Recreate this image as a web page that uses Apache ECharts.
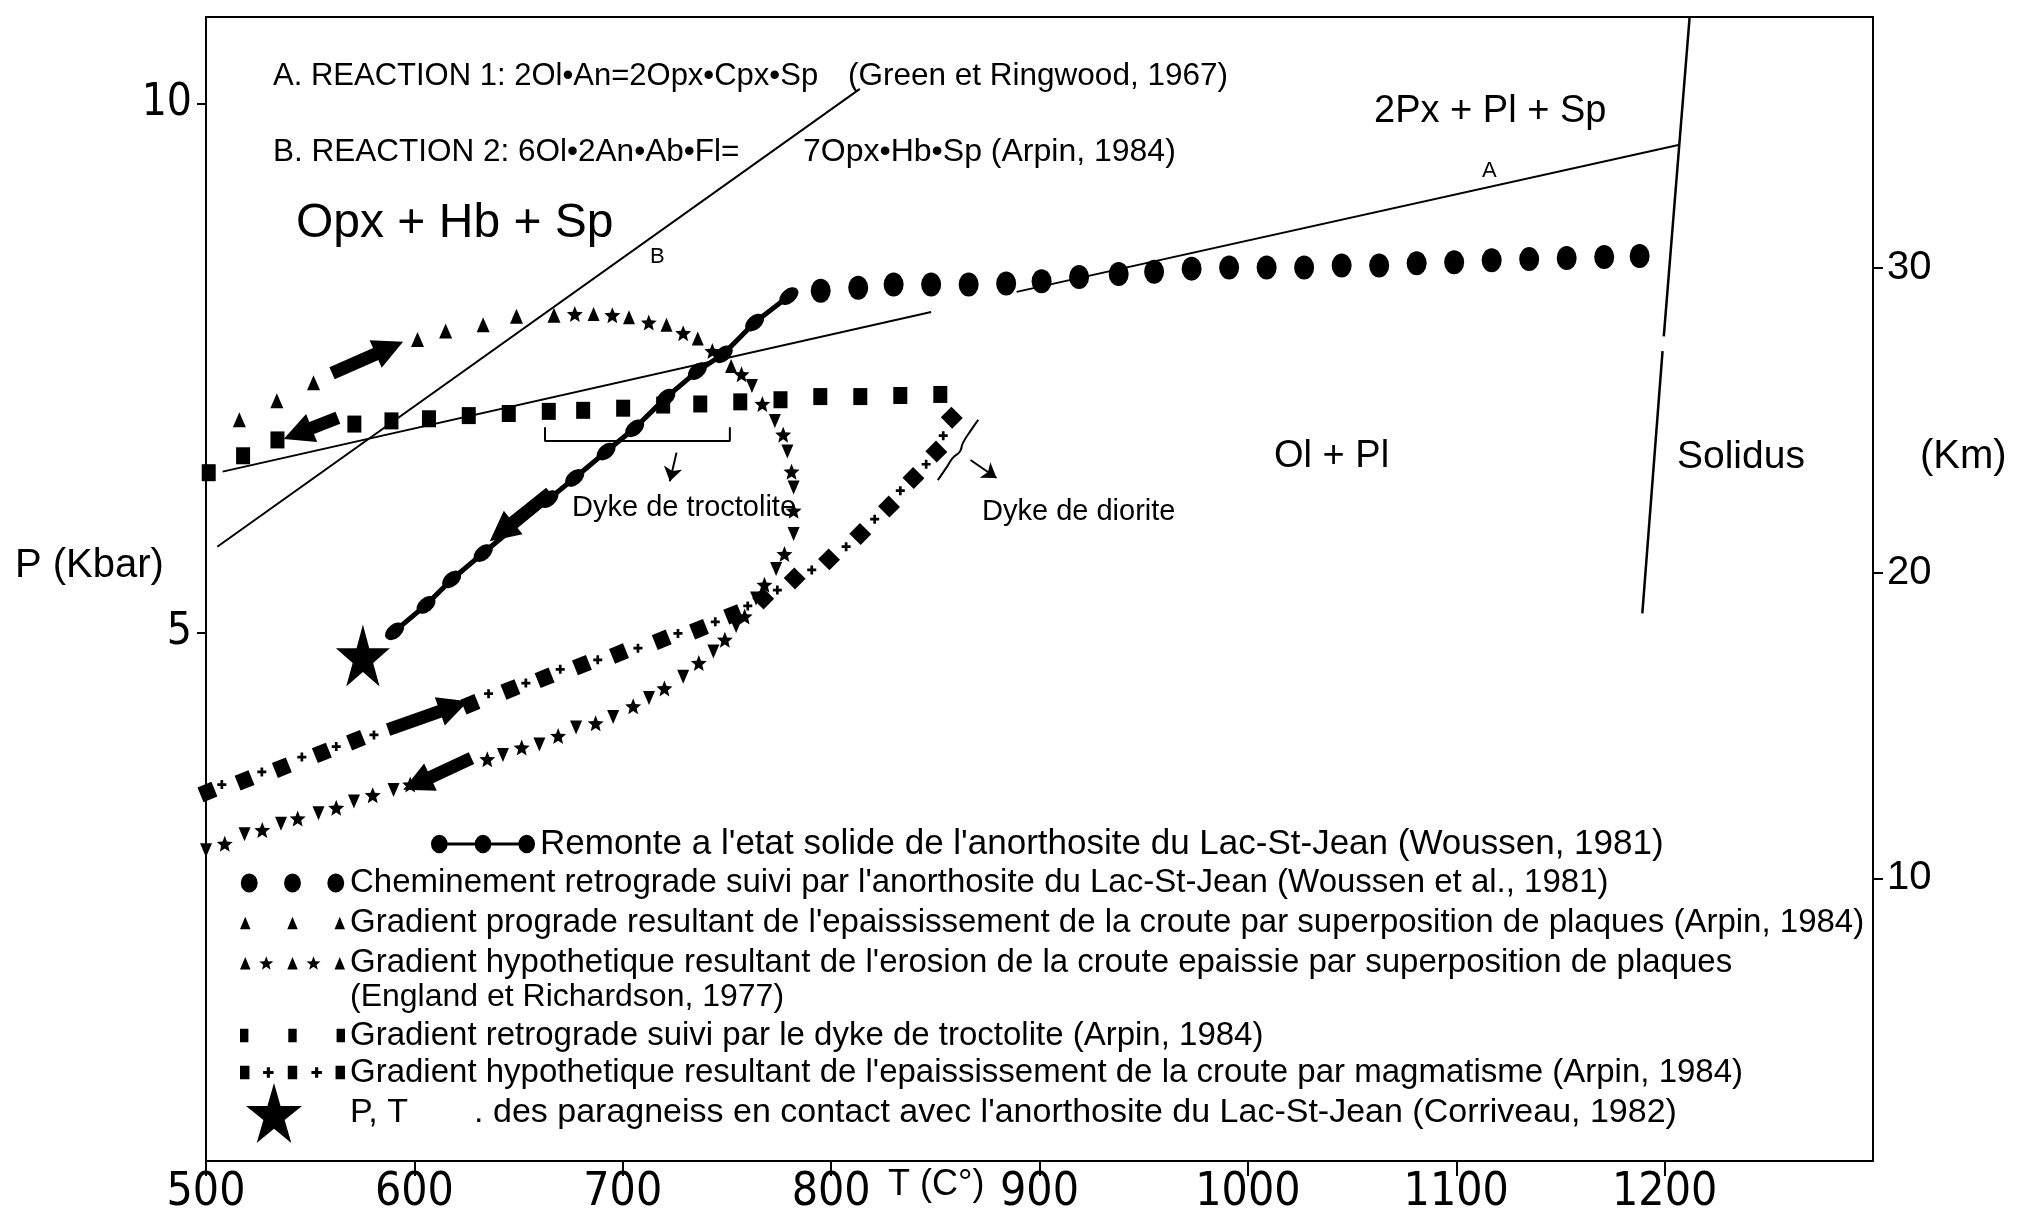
<!DOCTYPE html>
<html><head><meta charset="utf-8">
<script src="https://cdn.jsdelivr.net/npm/echarts@6/dist/echarts.min.js"></script>
<style>html,body{margin:0;padding:0;background:#fff}#c{width:2018px;height:1216px}</style>
</head><body><div id="c"></div>
<script>
// ---------------- DATA (T in °C, P in kbar) ----------------
const xTicks = [500, 600, 700, 800, 900, 1000, 1100, 1200];
const kbarTicks = [5, 10];
const kmTicks = [10, 20, 30];

// Reaction A (Green et Ringwood) — two visible pieces
const lineA1 = [[508, 6.52], [848, 8.03]];
const lineA2 = [[889, 8.22], [1206.6, 9.61]];
// Reaction B (Arpin)
const lineB = [[505.4, 5.81], [813.8, 10.14]];
// Solidus (with small break)
const solidus1 = [[1212, 10.82], [1199.6, 7.80]];
const solidus2 = [[1199, 7.66], [1189.3, 5.18]];

// Remonte a l'etat solide (chain)
const remonteT = [590.5, 605.6, 617.9, 633.0, 664.5, 676.9, 692.0, 705.7, 720.7, 735.8, 748.2, 763.3, 779.7];
const remonteP = [5.01, 5.26, 5.50, 5.75, 6.26, 6.46, 6.71, 6.93, 7.22, 7.47, 7.63, 7.93, 8.18];

// Cheminement retrograde (large dots)
const chemT = [795, 813, 830, 848, 866, 884, 901, 919, 938, 955, 973, 991, 1009, 1027, 1045, 1063, 1081, 1099, 1117, 1135, 1153, 1171, 1188];
const chemP = [8.23, 8.26, 8.29, 8.29, 8.29, 8.30, 8.32, 8.36, 8.39, 8.41, 8.44, 8.45, 8.45, 8.45, 8.47, 8.47, 8.49, 8.50, 8.52, 8.53, 8.54, 8.55, 8.56];

// Gradient prograde (triangles)
const progT = [499.4, 516, 534, 551.6, 601.5, 615, 633, 649, 667];
const progP = [6.86, 7.01, 7.19, 7.36, 7.77, 7.85, 7.91, 7.99, 8.0];

// Gradient hypothetique — erosion (triangles + stars)
const eroTriT = [686, 703, 721, 736, 752, 762, 773, 779, 782, 782, 773.6, 764, 754.4, 743.5, 729, 712.6, 695.4, 677.6, 660, 642.5, 590, 571, 554, 536, 518.5, 500];
const eroTriP = [8.01, 7.98, 7.91, 7.78, 7.52, 7.33, 7.0, 6.71, 6.37, 5.93, 5.6, 5.32, 5.06, 4.82, 4.58, 4.38, 4.2, 4.1, 3.94, 3.84, 3.51, 3.4, 3.29, 3.19, 3.09, 2.94];
const eroStarT = [677, 695, 712.5, 729, 743, 757, 767, 777, 781, 782, 777.6, 768, 758.5, 749, 736.5, 720, 705, 687, 669, 651.5, 635, 598, 580, 562.5, 544, 527, 509];
const eroStarP = [8.01, 8.0, 7.93, 7.83, 7.66, 7.44, 7.16, 6.87, 6.52, 6.15, 5.74, 5.45, 5.15, 4.93, 4.71, 4.47, 4.3, 4.14, 4.02, 3.91, 3.8, 3.56, 3.46, 3.34, 3.24, 3.13, 3.0];

// Gradient retrograde — dyke de troctolite (squares)
const trocT = [852.4, 833.2, 814, 794.8, 775.7, 756.4, 737.2, 719.4, 700.2, 681, 664.5, 645.3, 626.1, 607, 589, 571.2, 534.3, 517.8, 501.3];
const trocP = [7.25, 7.24, 7.23, 7.23, 7.20, 7.18, 7.16, 7.15, 7.12, 7.10, 7.09, 7.07, 7.05, 7.02, 7.0, 6.97, 6.82, 6.67, 6.51];

// Gradient hypothetique — magmatisme (squares + plus)
const magSqT = [857.9, 850.5, 839.5, 827.8, 814, 799, 782.5, 767.4, 753, 736.6, 718.7, 698.2, 680.4, 662.5, 646.1, 626.9, 572, 555.6, 536.4, 518.5, 500.7];
const magSqP = [7.03, 6.71, 6.46, 6.19, 5.93, 5.69, 5.51, 5.32, 5.17, 5.03, 4.93, 4.80, 4.69, 4.57, 4.46, 4.32, 3.98, 3.86, 3.72, 3.60, 3.49];
const magPlT = [853.8, 845.6, 833.2, 820.9, 807.2, 790.7, 774.2, 760, 744.4, 726.5, 707.3, 688, 670, 653.5, 635.6, 580.6, 562.5, 546, 526.8, 507.6];
const magPlP = [6.86, 6.59, 6.34, 6.07, 5.81, 5.59, 5.40, 5.25, 5.10, 4.99, 4.85, 4.74, 4.65, 4.52, 4.42, 4.03, 3.92, 3.82, 3.68, 3.56];

// P,T paragneiss
const paraT = [575.3];
const paraP = [4.78];

// Direction arrows [from, to]
const bigArrows = [
  [[560.5, 7.45], [588, 7.69]],
  [[563.3, 7.03], [544, 6.88]],
  [[665.2, 6.32], [641.8, 5.95]],
  [[587.4, 4.08], [619, 4.30]],
  [[627.4, 3.81], [601.2, 3.57]]
];
const smallArrows = [
  [[725.8, 6.70], [722.6, 6.43]],
  [[866.9, 6.63], [879.4, 6.46]]
];
const troctBracket = [[662.7, 6.94], [662.7, 6.81], [751.4, 6.81], [751.4, 6.94]];
const dioriteBrace = [[870.6, 7.01], [867.4, 6.92], [863.2, 6.79], [861.8, 6.71], [858.4, 6.65], [855.4, 6.56], [851.2, 6.44]];

// ---------------- NAMES ----------------
const N_REM = "Remonte a l'etat solide de l'anorthosite du Lac-St-Jean (Woussen, 1981)";
const N_CHE = "Cheminement retrograde suivi par l'anorthosite du Lac-St-Jean (Woussen et al., 1981)";
const N_PRO = "Gradient prograde resultant de l'epaississement de la croute par superposition de plaques (Arpin, 1984)";
const N_ERO = "Gradient hypothetique resultant de l'erosion de la croute epaissie par superposition de plaques";
const N_TRO = "Gradient retrograde suivi par le dyke de troctolite (Arpin, 1984)";
const N_MAG = "Gradient hypothetique resultant de l'epaississement de la croute par magmatisme (Arpin, 1984)";
const N_PT = "P, T       . des paragneiss en contact avec l'anorthosite du Lac-St-Jean (Corriveau, 1982)";

// ---------------- helpers ----------------
const zip = (a, b) => a.map((v, i) => [v, b[i]]);
function starPath(cx, cy, R, r) {
  let d = '';
  for (let i = 0; i < 10; i++) {
    const a = -Math.PI / 2 + i * Math.PI / 5;
    const rad = i % 2 === 0 ? R : r;
    d += (i === 0 ? 'M' : 'L') + (cx + rad * Math.cos(a)).toFixed(2) + ',' + (cy + rad * Math.sin(a)).toFixed(2) + ' ';
  }
  return d + 'Z ';
}
const circ = (cx, cy, rx, ry) => `M${cx - rx},${cy} A${rx},${ry} 0 1,1 ${cx + rx},${cy} A${rx},${ry} 0 1,1 ${cx - rx},${cy} Z `;
const tri = (x, w, h) => `M${x},${h} L${x + w / 2},0 L${x + w},${h} Z `;
const rect = (x, y, w, h) => `M${x},${y} L${x + w},${y} L${x + w},${y + h} L${x},${y + h} Z `;
const plus = (cx, cy, s, t) => rect(cx - s / 2, cy - t / 2, s, t) + rect(cx - t / 2, cy - s / 2, t, s);

const STAR = 'path://' + starPath(50, 50, 50, 19);
const STAR_SMALL = 'path://' + starPath(50, 50, 50, 22);
const PLUS = 'path://' + plus(5, 5, 10, 3);

const iconRem = 'path://' + circ(8, 9, 8, 9) + circ(50, 9, 8, 9) + circ(92, 9, 8, 9) + rect(15, 7.5, 28, 3) + rect(57, 7.5, 28, 3);
const iconChe = 'path://' + circ(9, 9, 8, 9) + circ(50, 9, 8, 9) + circ(91, 9, 8, 9);
const iconPro = 'path://' + tri(0, 10, 12) + tri(45, 10, 12) + tri(90, 10, 12);
const iconEro = 'path://' + tri(0, 10, 12) + starPath(25, 6.5, 7, 3) + tri(45, 10, 12) + starPath(70, 6.5, 7, 3) + tri(90, 10, 12);
const iconTro = 'path://' + rect(0, 0, 8, 13) + rect(46, 0, 8, 13) + rect(92, 0, 8, 13);
const iconMag = 'path://' + rect(0, 0, 9, 13) + plus(27, 6.5, 10, 3) + rect(45.5, 0, 9, 13) + plus(73, 6.5, 10, 3) + rect(91, 0, 9, 13);

const BLACK = '#000';
const NARROW = "'Liberation Sans Narrow', 'DejaVu Sans Condensed', sans-serif";
const SANS = "'Liberation Sans', Arial, sans-serif";

const thin = (data, extra) => Object.assign({
  type: 'line', data, symbol: 'none', silent: true, z: 3,
  lineStyle: { color: BLACK, width: 2 }
}, extra || {});

const series = [
  thin(lineA1), thin(lineA2), thin(lineB), thin(solidus1, { lineStyle: { color: BLACK, width: 2.5 } }), thin(solidus2, { lineStyle: { color: BLACK, width: 2.5 } }),
  thin(troctBracket), thin(dioriteBrace, { smooth: true }),
  {
    type: 'line', name: N_REM, data: zip(remonteT, remonteP), color: BLACK,
    symbol: 'circle', symbolSize: [14, 22], symbolRotate: -50, showAllSymbol: true,
    lineStyle: { color: BLACK, width: 5 }, itemStyle: { color: BLACK }, z: 5
  },
  { type: 'scatter', name: N_CHE, data: zip(chemT, chemP), symbol: 'circle', symbolSize: [20, 24], itemStyle: { color: BLACK, opacity: 1 }, z: 5 },
  { type: 'scatter', name: N_PRO, data: zip(progT, progP), symbol: 'triangle', symbolSize: [13, 15], itemStyle: { color: BLACK, opacity: 1 }, z: 5 },
  {
    type: 'scatter', name: N_ERO, symbol: 'triangle', symbolSize: [12, 14], itemStyle: { color: BLACK, opacity: 1 }, z: 5,
    data: eroTriT.map((t, i) => ({ value: [t, eroTriP[i]], symbolRotate: eroTriP[i] < 7.45 ? 180 : 0 }))
  },
  { type: 'scatter', name: N_ERO, data: zip(eroStarT, eroStarP), symbol: STAR_SMALL, symbolSize: 16, itemStyle: { color: BLACK, opacity: 1 }, z: 5 },
  { type: 'scatter', name: N_TRO, data: zip(trocT, trocP), symbol: 'rect', symbolSize: [14, 17], itemStyle: { color: BLACK, opacity: 1 }, z: 5 },
  {
    type: 'scatter', name: N_MAG, symbol: 'rect', symbolSize: [15, 16], itemStyle: { color: BLACK, opacity: 1 }, z: 5,
    data: magSqT.map((t, i) => ({ value: [t, magSqP[i]], symbolRotate: magSqP[i] > 5.2 ? 45 : 22 }))
  },
  { type: 'scatter', name: N_MAG, data: zip(magPlT, magPlP), symbol: PLUS, symbolSize: 9, itemStyle: { color: BLACK, opacity: 1 }, z: 5 },
  { type: 'scatter', name: N_PT, data: zip(paraT, paraP), symbol: STAR, symbolSize: [54, 62], symbolKeepAspect: false, itemStyle: { color: BLACK, opacity: 1 }, z: 6 },
  {
    type: 'lines', coordinateSystem: 'cartesian2d', silent: true, z: 8,
    data: bigArrows.map(a => ({ coords: a })),
    symbol: ['none', 'triangle'], symbolSize: [40, 30],
    lineStyle: { color: BLACK, width: 13, opacity: 1 }
  },
  {
    type: 'lines', coordinateSystem: 'cartesian2d', silent: true, z: 8,
    data: smallArrows.map(a => ({ coords: a })),
    symbol: ['none', 'arrow'], symbolSize: [12, 14],
    lineStyle: { color: BLACK, width: 2, opacity: 1 }
  }
];

const legendBase = {
  orient: 'vertical', padding: 0, selectedMode: false, symbolKeepAspect: true,
  textStyle: { fontSize: 33, fontFamily: SANS, color: BLACK, lineHeight: 38 },
  itemStyle: { color: BLACK }
};

const txt = (text, x, y, size, family, extra) => ({
  type: 'text', x, y, silent: true, z: 20,
  style: Object.assign({ text, fontSize: size, fontFamily: family || SANS, fill: BLACK, align: 'left', verticalAlign: 'middle' }, extra || {})
});

const option = {
  animation: false,
  backgroundColor: '#fff',
  textStyle: { fontFamily: SANS },
  grid: { left: 206, right: 145, top: 17, bottom: 55, show: true, borderColor: BLACK, borderWidth: 2, containLabel: false, outerBoundsMode: 'none' },
  xAxis: {
    type: 'value', min: 500, max: 1300, interval: 100,
    axisLine: { lineStyle: { color: BLACK, width: 2 } },
    axisTick: { show: true, length: 15, lineStyle: { color: BLACK, width: 2 }, customValues: xTicks },
    axisLabel: { color: BLACK, fontSize: 46, fontFamily: NARROW, margin: 9, customValues: xTicks, formatter: v => String(v) },
    splitLine: { show: false }
  },
  yAxis: [
    {
      type: 'value', min: 0, max: 10.82, interval: 5,
      axisLine: { show: true, lineStyle: { color: BLACK, width: 2 } },
      axisTick: { show: true, length: 9, lineStyle: { color: BLACK, width: 2 }, customValues: kbarTicks },
      axisLabel: { color: BLACK, fontSize: 44, fontFamily: NARROW, margin: 14, customValues: kbarTicks, formatter: v => String(v) },
      splitLine: { show: false }
    },
    {
      type: 'value', position: 'right', min: 0.75, max: 38.2,
      axisLine: { show: true, lineStyle: { color: BLACK, width: 2 } },
      axisTick: { show: true, length: 10, lineStyle: { color: BLACK, width: 2 }, customValues: kmTicks },
      axisLabel: { color: BLACK, fontSize: 40, fontFamily: SANS, margin: 14, customValues: kmTicks, formatter: v => String(v) },
      splitLine: { show: false }
    }
  ],
  legend: [
    Object.assign({}, legendBase, {
      left: 431, top: 825, itemWidth: 104, itemHeight: 19,
      textStyle: Object.assign({}, legendBase.textStyle, { fontSize: 35 }),
      data: [{ name: N_REM, icon: iconRem }]
    }),
    Object.assign({}, legendBase, {
      left: 240, top: 864, itemWidth: 105, itemHeight: 19, itemGap: 2,
      data: [{ name: N_CHE, icon: iconChe }, { name: N_PRO, icon: iconPro }, { name: N_ERO, icon: iconEro }]
    }),
    Object.assign({}, legendBase, {
      left: 240, top: 1017, itemWidth: 105, itemHeight: 15, itemGap: 0,
      textStyle: Object.assign({}, legendBase.textStyle, { lineHeight: 37 }),
      data: [{ name: N_TRO, icon: iconTro }, { name: N_MAG, icon: iconMag }]
    }),
    Object.assign({}, legendBase, {
      left: 246, top: 1083, itemWidth: 56, itemHeight: 60, symbolKeepAspect: false,
      textStyle: Object.assign({}, legendBase.textStyle, { padding: [0, 0, 0, 43], fontSize: 34 }),
      data: [{ name: N_PT, icon: STAR }]
    })
  ],
  graphic: [
    txt('A. REACTION 1: 2Ol•An=2Opx•Cpx•Sp', 273, 76, 31),
    txt('(Green et Ringwood, 1967)', 848, 76, 31.5),
    txt('B. REACTION 2: 6Ol•2An•Ab•Fl=', 273, 152, 31.5),
    txt('7Opx•Hb•Sp (Arpin, 1984)', 803, 152, 32),
    txt('Opx + Hb + Sp', 296, 224, 48),
    txt('2Px + Pl + Sp', 1374, 112, 38),
    txt('A', 1482, 171, 22),
    txt('B', 650, 257, 22),
    txt('Ol + Pl', 1274, 457, 38),
    txt('Solidus', 1677, 457, 39),
    txt('(Km)', 1920, 457, 40),
    txt('P (Kbar)', 15, 566, 40),
    txt('T (C°)', 888, 1185, 36),
    txt('Dyke de troctolite', 572, 508, 29),
    txt('Dyke de diorite', 982, 512, 29),
    txt('(England et Richardson, 1977)', 350, 997, 32)
  ],
  series
};

const chart = echarts.init(document.getElementById('c'), null, { renderer: 'canvas' });
chart.setOption(option);
</script></body></html>
